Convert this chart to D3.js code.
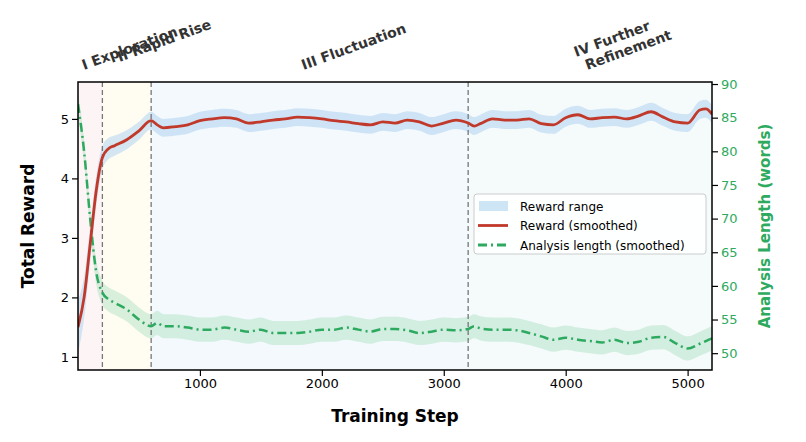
<!DOCTYPE html>
<html><head><meta charset="utf-8">
<script src="https://cdn.jsdelivr.net/npm/d3@7"></script>
<style>body{margin:0;background:#fff;font-family:"DejaVu Sans",sans-serif}</style>
</head><body>
<script>
// data
var steps = [0,50,100,150,200,250,300,400,500,600,650,700,800,900,1000,1100,1200,1300,1400,1500,1600,1700,1800,1900,2000,2100,2200,2300,2400,2500,2600,2700,2800,2900,3000,3100,3200,3250,3300,3400,3500,3600,3700,3800,3900,4000,4100,4200,4300,4400,4500,4600,4700,4800,4900,5000,5100,5150,5200];
var reward = [1.5,2.0,2.9,3.8,4.35,4.5,4.55,4.65,4.8,4.97,4.9,4.85,4.87,4.9,4.97,5.0,5.02,5.0,4.93,4.95,4.98,5.0,5.03,5.02,5.0,4.97,4.95,4.92,4.9,4.95,4.93,4.98,4.95,4.88,4.93,4.98,4.93,4.88,4.92,5.0,4.98,4.98,5.0,4.92,4.9,5.02,5.07,5.0,5.02,5.03,5.0,5.05,5.12,5.03,4.95,4.93,5.15,5.17,5.08];
var rewardSpread = [0.45,0.35,0.3,0.25,0.2,0.18,0.17,0.16,0.15,0.15,0.15,0.15,0.15,0.15,0.15,0.15,0.15,0.15,0.15,0.15,0.15,0.15,0.15,0.15,0.15,0.15,0.15,0.15,0.15,0.15,0.15,0.15,0.15,0.15,0.15,0.15,0.15,0.15,0.15,0.15,0.15,0.15,0.15,0.15,0.15,0.15,0.15,0.15,0.15,0.15,0.15,0.15,0.15,0.15,0.15,0.15,0.15,0.15,0.15];
var lengthVals = [87,80,70,62,59,58,57.5,56.5,55,54,54.5,54,54,53.8,53.5,53.5,53.8,53.5,53.2,53.5,53,53,53,53.2,53.5,53.5,53.8,53.5,53.2,53.6,53.6,53.4,53,53.2,53.5,53.4,53.6,54,53.7,53.5,53.5,53.4,53,52.5,52,52.3,52,51.8,51.6,52,51.5,51.7,52.3,52.4,51.5,50.7,51.4,51.8,52.2];
var lengthSpread = 1.8;
var phases = [{name:"I Exploration",from:0,to:200,color:"#fdf5f5"},{name:"II Rapid Rise",from:200,to:600,color:"#fffcf2"},{name:"III Fluctuation",from:600,to:3200,color:"#f3f9fc"},{name:"IV Further\nRefinement",from:3200,to:5200,color:"#f5fafb"}];
var boundaries = [200,600,3200];
var xTicks = [1000,2000,3000,4000,5000];
var yTicks = [1,2,3,4,5];
var y2Ticks = [50,55,60,65,70,75,80,85,90];

var W = 806, H = 442, margin = {top:82,right:94,bottom:72,left:78};
var w = W - margin.left - margin.right, h = H - margin.top - margin.bottom;
var green = "#2eaa60", red = "#c0392b";

var svg = d3.select("body").append("svg").attr("width", W).attr("height", H);
var g = svg.append("g").attr("transform", "translate(" + margin.left + "," + margin.top + ")");

var x = d3.scaleLinear().domain([0,5200]).range([0,w]);
var y = d3.scaleLinear().domain([0.78,5.62]).range([h,0]);
var y2 = d3.scaleLinear().domain([47.5,90.3]).range([h,0]);

var defs = svg.append("defs");
defs.append("clipPath").attr("id","clip").append("rect").attr("width",w).attr("height",h);
var plot = g.append("g").attr("clip-path","url(#clip)");

// phase backgrounds
plot.selectAll(".phase").data(phases).enter().append("rect")
  .attr("x", function(d){return x(d.from);}).attr("width", function(d){return x(d.to)-x(d.from);})
  .attr("y",0).attr("height",h).attr("fill", function(d){return d.color;});

var idx = d3.range(steps.length);
// length band
plot.append("path").datum(idx).attr("fill","#a8e0bf").attr("opacity",0.45)
  .attr("d", d3.area().x(function(i){return x(steps[i]);})
    .y0(function(i){return y2(lengthVals[i]-lengthSpread);}).y1(function(i){return y2(lengthVals[i]+lengthSpread);}).curve(d3.curveMonotoneX));
// reward band
plot.append("path").datum(idx).attr("fill","#aed4f0").attr("opacity",0.55)
  .attr("d", d3.area().x(function(i){return x(steps[i]);})
    .y0(function(i){return y(reward[i]-rewardSpread[i]);}).y1(function(i){return y(reward[i]+rewardSpread[i]);}).curve(d3.curveMonotoneX));

plot.selectAll(".bound").data(boundaries).enter().append("line")
  .attr("x1",function(d){return x(d);}).attr("x2",function(d){return x(d);})
  .attr("y1",0).attr("y2",h).attr("stroke","#777").attr("stroke-width",1.3).attr("stroke-dasharray","5,3");

plot.append("path").datum(idx).attr("fill","none").attr("stroke",green).attr("stroke-width",2.5)
  .attr("stroke-dasharray","9,4,2,4")
  .attr("d", d3.line().x(function(i){return x(steps[i]);}).y(function(i){return y2(lengthVals[i]);}).curve(d3.curveMonotoneX));
plot.append("path").datum(idx).attr("fill","none").attr("stroke",red).attr("stroke-width",2.8)
  .attr("d", d3.line().x(function(i){return x(steps[i]);}).y(function(i){return y(reward[i]);}).curve(d3.curveMonotoneX));

// axes
var fmt = d3.format("d");
var xa = g.append("g").attr("transform","translate(0,"+h+")").call(d3.axisBottom(x).tickValues(xTicks).tickFormat(fmt).tickSizeOuter(0).tickSize(6));
var ya = g.append("g").call(d3.axisLeft(y).tickValues(yTicks).tickFormat(fmt).tickSizeOuter(0).tickSize(6));
var y2a = g.append("g").attr("transform","translate("+w+",0)").call(d3.axisRight(y2).tickValues(y2Ticks).tickFormat(fmt).tickSizeOuter(0).tickSize(6));
[xa,ya,y2a].forEach(function(a){
  a.selectAll("text").attr("font-size",13).attr("font-family","DejaVu Sans").attr("fill","#000");
  a.selectAll("line").attr("stroke","#000").attr("stroke-width",1.2);
  a.select(".domain").remove();
});
y2a.selectAll("text").attr("fill",green);
g.append("rect").attr("width",w).attr("height",h).attr("fill","none").attr("stroke","#000").attr("stroke-width",1.5);

// axis titles
g.append("text").attr("x",w/2).attr("y",h+52).attr("text-anchor","middle").attr("font-size",17).attr("font-weight","bold").text("Training Step");
g.append("text").attr("transform","translate(-44,"+h/2+") rotate(-90)").attr("text-anchor","middle").attr("font-size",17).attr("font-weight","bold").text("Total Reward");
g.append("text").attr("transform","translate("+(w+58)+","+h/2+") rotate(-90)").attr("text-anchor","middle").attr("font-size",15).attr("font-weight","bold").attr("fill",green).text("Analysis Length (words)");

// phase labels
var labelPos = [{x:50,y:-12},{x:340,y:-20},{x:1850,y:-12},{x:4130,y:-10}];
phases.forEach(function(p,i){
  var t = g.append("text").attr("transform","translate("+x(labelPos[i].x)+","+labelPos[i].y+") rotate(-20)")
    .attr("font-size",14).attr("font-weight","bold").attr("fill","#333");
  var lines = p.name.split("\n");
  lines.forEach(function(l,j){
    t.append("tspan").attr("x",j*6).attr("dy", j===0 ? -(lines.length-1)*16 : 16).text(l);
  });
});

// legend
var lg = g.append("g").attr("transform","translate(396,112)");
lg.append("rect").attr("width",232).attr("height",60).attr("rx",3).attr("fill","#fff").attr("fill-opacity",0.85).attr("stroke","#ccc");
var items = [{t:"Reward range",k:"band"},{t:"Reward (smoothed)",k:"red"},{t:"Analysis length (smoothed)",k:"green"}];
items.forEach(function(d,i){
  var yy = 12 + i*19.5;
  if (d.k==="band") lg.append("rect").attr("x",5).attr("y",yy-5).attr("width",29).attr("height",10).attr("fill","#aed4f0").attr("opacity",0.6);
  else lg.append("line").attr("x1",4).attr("x2",34).attr("y1",yy).attr("y2",yy)
    .attr("stroke", d.k==="red"?red:green).attr("stroke-width",2.8).attr("stroke-dasharray", d.k==="green"?"9,4,2,4":null);
  lg.append("text").attr("x",46).attr("y",yy+4.5).attr("font-size",12).text(d.t);
});
</script>
</body></html>
